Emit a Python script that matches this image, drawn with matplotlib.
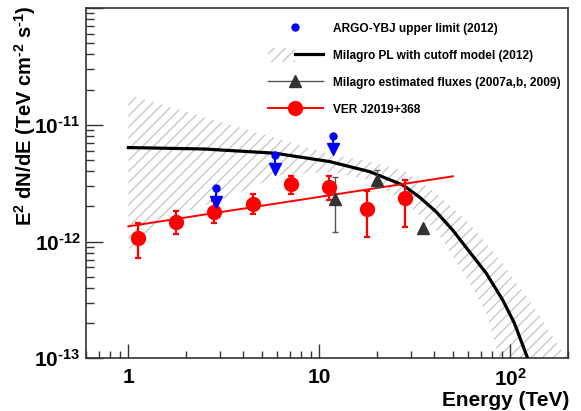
import matplotlib
matplotlib.use("Agg")
import matplotlib.pyplot as plt
import numpy as np
from matplotlib.lines import Line2D
from matplotlib.patches import Patch
from matplotlib.legend_handler import HandlerTuple
from matplotlib.ticker import FixedLocator, FixedFormatter, LogLocator, NullFormatter

plt.rcParams['font.family'] = ['Liberation Sans', 'DejaVu Sans']
plt.rcParams['font.weight'] = 'bold'
plt.rcParams['mathtext.fontset'] = 'custom'
plt.rcParams['mathtext.rm'] = 'Liberation Sans:bold'
plt.rcParams['mathtext.bf'] = 'Liberation Sans:bold'
plt.rcParams['mathtext.it'] = 'Liberation Sans:bold'
plt.rcParams['mathtext.default'] = 'rm'
plt.rcParams['hatch.linewidth'] = 0.9

# VER J2019+368 spectral points (TeV, TeV cm^-2 s^-1)
ver_e = [1.12, 1.78, 2.82, 4.47, 7.08, 11.2, 17.8, 28.2]
ver_f = [1.08e-12, 1.48e-12, 1.78e-12, 2.11e-12, 3.10e-12, 2.92e-12, 1.89e-12, 2.38e-12]
ver_hi = [1.43e-12, 1.83e-12, 2.23e-12, 2.56e-12, 3.65e-12, 3.67e-12, 2.71e-12, 3.37e-12]
ver_lo = [7.2e-13, 1.15e-12, 1.45e-12, 1.71e-12, 2.56e-12, 2.27e-12, 1.10e-12, 1.34e-12]

# VER power-law fit
fit_e = [1.0, 50.0]
fit_f = [1.35e-12, 3.62e-12]

# ARGO-YBJ upper limits
argo_e = [2.86, 5.83, 11.8]
argo_f = [2.87e-12, 5.54e-12, 8.09e-12]

# Milagro estimated fluxes
mil_e = [12.0, 20.0, 34.8]
mil_f = [2.32e-12, 3.37e-12, 1.30e-12]
mil_hi = [3.60e-12, 4.06e-12, 1.30e-12]
mil_lo = [1.21e-12, 2.95e-12, 1.30e-12]

# Milagro PL with cutoff model curve
mod_e = [1.0, 2.5, 5.83, 11.3, 18.3, 27.3, 33.4, 40.8, 49.7, 61.0, 74.6, 91.1, 104.8, 123.0]
mod_f = [6.38e-12, 6.2e-12, 5.71e-12, 4.84e-12, 3.97e-12, 3.05e-12, 2.40e-12, 1.80e-12,
         1.26e-12, 8.17e-13, 5.36e-13, 3.15e-13, 2.0e-13, 1.0e-13]

# model uncertainty band edges
band_up_e = [1.0, 11.8, 18.3, 27.2, 40.8, 61.0, 91.1, 136.0, 180.0, 200.0]
band_up_f = [1.81e-11, 5.5e-12, 4.84e-12, 4.11e-12, 2.59e-12, 1.43e-12, 6.5e-13, 2.58e-13, 1.25e-13, 1.0e-13]
band_lo_e = [1.0, 1.65, 3.39, 6.2, 11.3, 18.3, 27.2, 40.8, 61.0, 74.8, 87.5]
band_lo_f = [8.6e-13, 1.62e-12, 2.42e-12, 3.7e-12, 3.95e-12, 3.37e-12, 2.27e-12, 1.26e-12, 4.41e-13, 2.43e-13, 1.0e-13]

labels = ['ARGO-YBJ upper limit (2012)', 'Milagro PL with cutoff model (2012)',
          'Milagro estimated fluxes (2007a,b, 2009)', 'VER J2019+368']

fig = plt.figure(figsize=(5.81, 4.11), dpi=100)
ax = fig.add_axes([86/581, 1 - 358.3/411, (568 - 86)/581, (358.3 - 8)/411])
ax.set_xscale('log')
ax.set_yscale('log')
ax.set_xlim(0.6, 200)
ax.set_ylim(1e-13, 1e-10)

hatch_col = '#c4c4c4'
poly_x = np.concatenate([band_up_e, band_lo_e[::-1]])
poly_y = np.concatenate([band_up_f, band_lo_f[::-1]])
ax.fill(poly_x, poly_y, facecolor='none', edgecolor=hatch_col, hatch='///', linewidth=0, zorder=1)

ax.plot(mod_e, mod_f, color='black', lw=2.3, zorder=3)
ax.plot(fit_e, fit_f, color='red', lw=1.4, zorder=4)

ve = np.array(ver_f)
ax.errorbar(ver_e, ver_f, yerr=[ve - np.array(ver_lo), np.array(ver_hi) - ve], fmt='o',
            color='red', ms=10, elinewidth=1.6, capsize=2, capthick=1.6, zorder=5)

mf = np.array(mil_f)
ax.errorbar(mil_e, mil_f, yerr=[mf - np.array(mil_lo), np.array(mil_hi) - mf], fmt='^',
            color='#333333', ecolor='#555555', ms=9, elinewidth=1.0, capsize=2, capthick=1.0, zorder=5)

# ARGO upper limits: dot with downward arrow
af = np.array(argo_f)
for e, f in zip(argo_e, af):
    ax.plot([e, e], [f, f * 0.74], color='blue', lw=1.5, zorder=6)
ax.plot(argo_e, af * 0.76, 'v', color='blue', ms=9, zorder=6)
ax.plot(argo_e, af, 'o', color='blue', ms=5, zorder=6)

# ticks
ax.xaxis.set_major_locator(FixedLocator([1, 10, 100]))
ax.xaxis.set_major_formatter(FixedFormatter(['1', '10', r'$10^{2}$']))
ax.xaxis.set_minor_locator(LogLocator(base=10, subs=np.arange(2, 10)))
ax.xaxis.set_minor_formatter(NullFormatter())
ax.yaxis.set_major_locator(FixedLocator([1e-13, 1e-12, 1e-11, 1e-10]))
ax.yaxis.set_major_formatter(FixedFormatter([r'$10^{\text{-}13}$', r'$10^{\text{-}12}$',
                                             r'$10^{\text{-}11}$', '']))
ax.yaxis.set_minor_locator(LogLocator(base=10, subs=np.arange(2, 10)))
ax.yaxis.set_minor_formatter(NullFormatter())
ax.tick_params(which='both', direction='in', top=False, right=False, labelsize=15, color='#333333')
ax.tick_params(axis='y', which='major', length=12, width=1.0, pad=4)
ax.tick_params(axis='y', which='minor', length=6, width=1.0)
ax.tick_params(axis='x', which='major', length=10, width=1.0, pad=7)
ax.tick_params(axis='x', which='minor', length=5, width=1.0)
for sp in ax.spines.values():
    sp.set_linewidth(1.2)
    sp.set_color('#333333')

# axis titles, ROOT style (right/top aligned)
fig.text(569/581, 1 - 406/411, 'Energy (TeV)', fontsize=15, fontweight='bold', ha='right', va='baseline')
fig.text(25/581, 1 - 5/411, r'E$^{2}$ dN/dE (TeV cm$^{\text{-}2}$ s$^{\text{-}1}$)', fontsize=14.5,
         fontweight='bold', rotation=90, ha='center', va='top')

# legend
h_argo = Line2D([], [], marker='o', color='blue', ms=5, lw=0)
h_mod = (Patch(facecolor='none', edgecolor=hatch_col, hatch='///', linewidth=0),
         Line2D([], [], color='black', lw=2.3))
h_mil = Line2D([], [], marker='^', color='#555555', mfc='#333333', mec='#333333', ms=9, lw=1.0)
h_ver = Line2D([], [], marker='o', color='red', ms=10, lw=1.4)
ax.legend([h_argo, h_mod, h_mil, h_ver], labels, handler_map={tuple: HandlerTuple(ndivide=None, pad=0)},
          loc='upper left', bbox_to_anchor=(268/581, 1 - 21.5/411), bbox_transform=fig.transFigure,
          frameon=False, handlelength=4.6, handleheight=1.4, handletextpad=0.84,
          labelspacing=1.09, borderpad=0, borderaxespad=0, prop={'weight': 'bold', 'size': 8.6})

fig.savefig('out.png', dpi=100)
